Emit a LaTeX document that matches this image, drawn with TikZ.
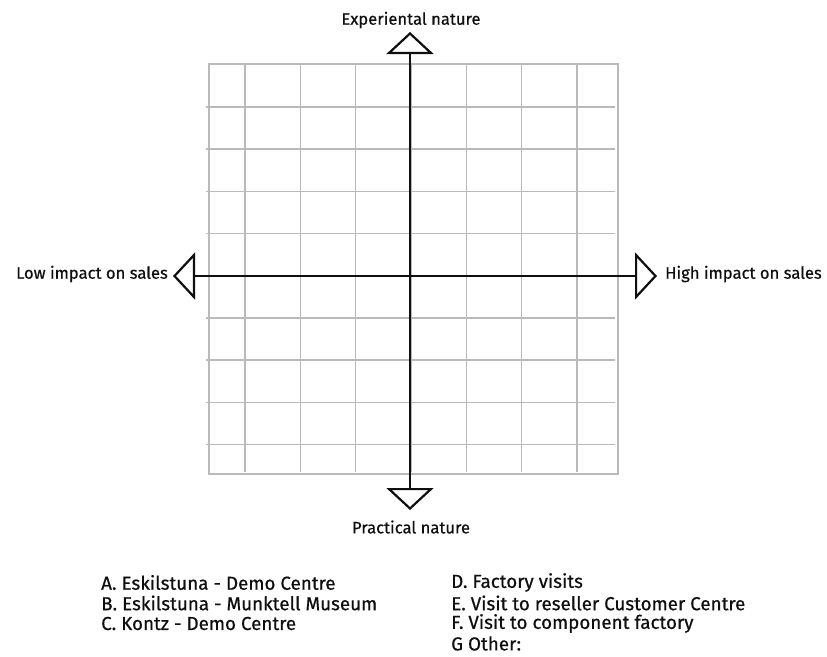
\documentclass[tikz,border=0pt]{standalone}
\usepackage{fontspec}
\setmainfont{Fira Sans}
\newfontfamily\diagfont{Fira Sans}[FakeBold=0.6]
\usetikzlibrary{arrows.meta}
\definecolor{gridgray}{RGB}{186,186,186}
\definecolor{ink}{RGB}{15,15,15}

\begin{document}
\begin{tikzpicture}[x=1pt,y=-1pt,
  axis/.style={ink,line width=2.2pt,-{Triangle[open,width=47pt,length=22pt]}},
  axislabel/.style={ink,inner sep=0pt,font=\diagfont\fontsize{16.6}{19}\selectfont},
  legend/.style={ink,inner sep=0pt,anchor=west,font=\diagfont\fontsize{18.8}{21}\selectfont}]
\useasboundingbox (0,0) rectangle (827,656);
%% grid
\foreach \gx in {0,...,6}
  \draw[gridgray,line width=1.5pt] ({245+55.33*\gx},64) -- ({245+55.33*\gx},472);
\foreach \gy in {0,...,8}
  \draw[gridgray,line width=1.5pt] (206,{107+42.2*\gy}) -- (615,{107+42.2*\gy});
\draw[gridgray,line width=1.5pt] (209,64) rectangle (618,474);
%% axes
\coordinate (origin) at (410,276);
\coordinate (ntip) at (410,32);
\coordinate (stip) at (410,510);
\coordinate (wtip) at (173,276);
\coordinate (etip) at (657,276);
\draw[axis] (origin) -- (ntip);
\draw[axis] (origin) -- (stip);
\draw[axis] (origin) -- (wtip);
\draw[axis] (origin) -- (etip);
\node[axislabel] (exper) at (411,20) {Experiental nature};
\node[axislabel] (pract) at (411,527) {Practical nature};
\node[axislabel,anchor=east] (low) at (168,274) {Low impact on sales};
\node[axislabel,anchor=west] (high) at (665,274) {High impact on sales};
%% legend
\node[legend] (sitea) at (101,582.5) {A. Eskilstuna - Demo Centre};
\node[legend] (siteb) at (101,603) {B. Eskilstuna - Munktell Museum};
\node[legend] (sitec) at (101,623.5) {C. Kontz - Demo Centre};
\node[legend] (sited) at (451,582.5) {D. Factory visits};
\node[legend] (sitee) at (451,603) {E. Visit to reseller Customer Centre};
\node[legend] (sitef) at (451,623.5) {F. Visit to component factory};
\node[legend] (siteg) at (451,643.5) {G Other:};
\end{tikzpicture}
\end{document}
